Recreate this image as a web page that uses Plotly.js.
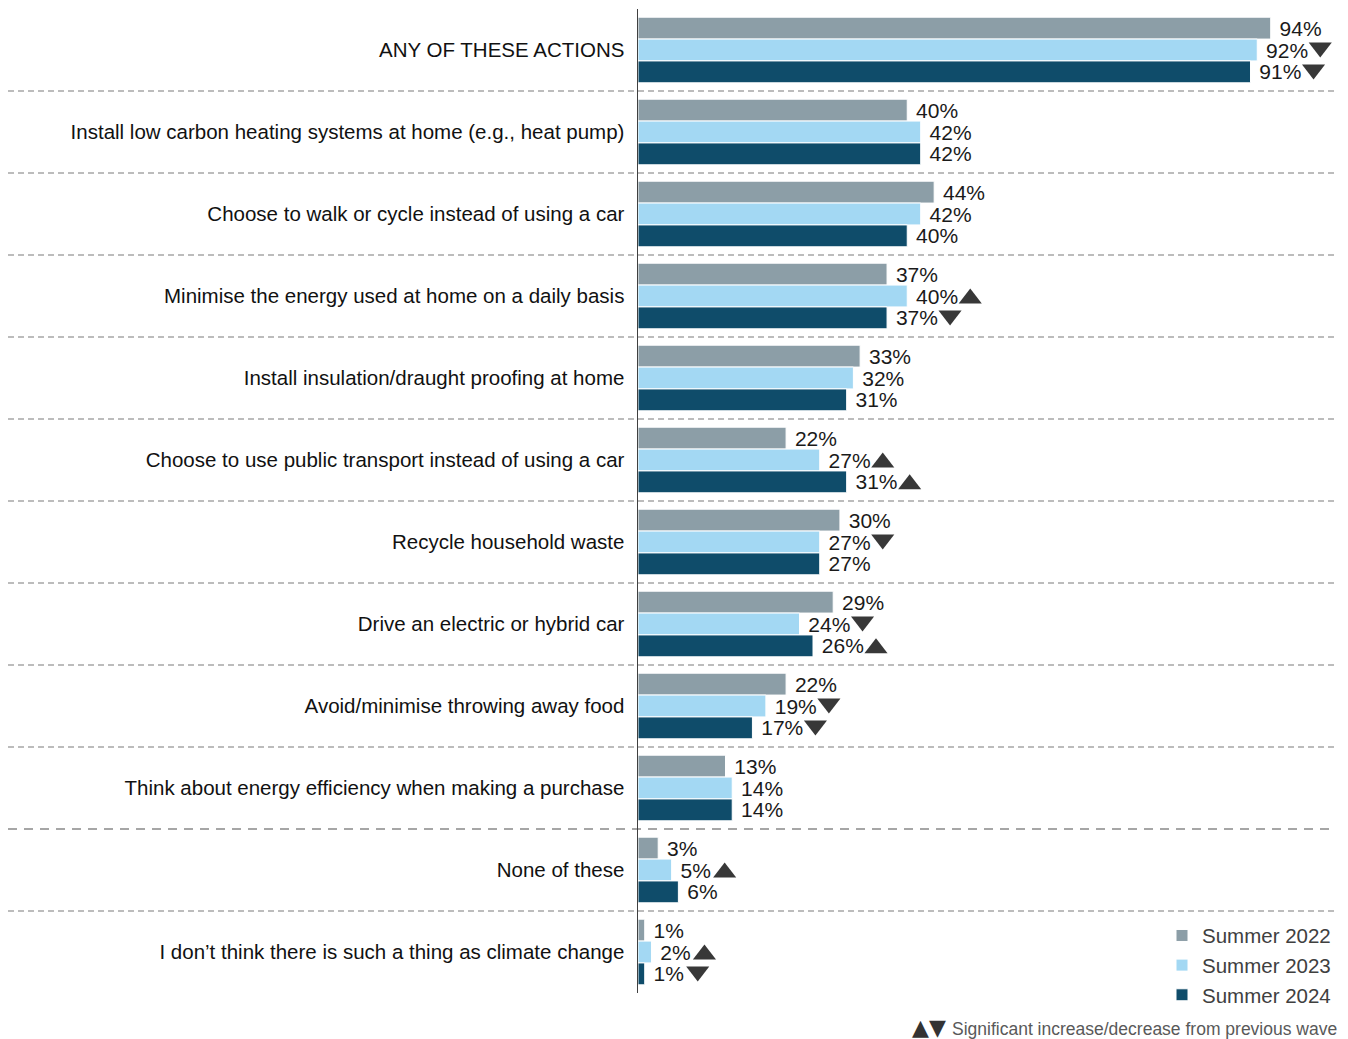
<!DOCTYPE html>
<html>
<head>
<meta charset="utf-8">
<script src="https://cdn.plot.ly/plotly-3.0.1.min.js"></script>
<style>html,body{margin:0;padding:0;background:#fff;}#chart{width:1348px;height:1039px;}</style>
</head>
<body>
<div id="chart"></div>
<script>
const categories = [
  "ANY OF THESE ACTIONS",
  "Install low carbon heating systems at home (e.g., heat pump)",
  "Choose to walk or cycle instead of using a car",
  "Minimise the energy used at home on a daily basis",
  "Install insulation/draught proofing at home",
  "Choose to use public transport instead of using a car",
  "Recycle household waste",
  "Drive an electric or hybrid car",
  "Avoid/minimise throwing away food",
  "Think about energy efficiency when making a purchase",
  "None of these",
  "I don\u2019t think there is such a thing as climate change"
];
const seriesNames = ["Summer 2022", "Summer 2023", "Summer 2024"];
const summer2022 = [94, 40, 44, 37, 33, 22, 30, 29, 22, 13, 3, 1];
const summer2023 = [92, 42, 42, 40, 32, 27, 27, 24, 19, 14, 5, 2];
const summer2024 = [91, 42, 40, 37, 31, 31, 27, 26, 17, 14, 6, 1];
// significance vs previous wave: "up", "down" or ""
const sig2023 = ["down", "", "", "up", "", "up", "down", "down", "down", "", "up", "up"];
const sig2024 = ["down", "", "", "down", "", "up", "", "up", "down", "", "", "down"];

const colors = ["#8C9EA7", "#A3D8F3", "#0F4C6A"];
const values = [summer2022, summer2023, summer2024];
const sigs = [null, sig2023, sig2024];

const xMax = 103.7;
const plotW = 698;
const plotH = 984;
const pxPerUnit = plotW / xMax;
const groupWidth = 0.8;
const nSeries = 3;
const idx = categories.map((c, i) => i);
const FONT = "Liberation Sans, Arial, sans-serif";

const traces = [];
values.forEach((vals, s) => {
  traces.push({
    type: "bar",
    orientation: "h",
    name: seriesNames[s],
    x: vals,
    y: idx,
    marker: {color: colors[s], line: {color: "#ffffff", width: 1}},
    texttemplate: " %{x}%",
    textposition: "outside",
    constraintext: "none",
    cliponaxis: false,
    textfont: {family: FONT, size: 21, color: "#1a1a1a"},
    hoverinfo: "skip"
  });
});

// significance triangles placed just after each value label
["up", "down"].forEach(dir => {
  const xs = [], ys = [];
  sigs.forEach((sg, s) => {
    if (!sg) return;
    sg.forEach((d, i) => {
      if (d !== dir) return;
      const v = values[s][i];
      const offPx = v >= 10 ? 63 : 53;
      xs.push(v + offPx / pxPerUnit);
      ys.push(i + (s - (nSeries - 1) / 2) * groupWidth / nSeries + (dir === "up" ? 0.03 : -0.03));
    });
  });
  traces.push({
    type: "scatter",
    mode: "markers",
    x: xs, y: ys,
    showlegend: false,
    hoverinfo: "skip",
    cliponaxis: false,
    marker: {symbol: dir === "up" ? "triangle-up" : "triangle-down", size: 20, color: "#383838"}
  });
});

const shapes = [];
for (let i = 0; i < categories.length - 1; i++) {
  const heavy = (i === 9);
  shapes.push({
    type: "line", xref: "paper", yref: "y",
    x0: (8 - 638) / plotW, x1: 1, y0: i + 0.5, y1: i + 0.5,
    line: {color: "#A6A6A6", width: heavy ? 2 : 1.5, dash: heavy ? "9px,7px" : "6px,4px"},
    layer: "below"
  });
}

const layout = {
  width: 1348, height: 1039,
  margin: {l: 638, r: 12, t: 9, b: 46},
  paper_bgcolor: "#ffffff", plot_bgcolor: "#ffffff",
  font: {family: FONT, size: 20.5, color: "#1a1a1a"},
  barmode: "group",
  bargap: 0.2,
  bargroupgap: 0,
  showlegend: true,
  legend: {
    x: 1.0, xanchor: "right", y: -0.022, yanchor: "bottom",
    font: {size: 20.5, color: "#404040"},
    traceorder: "normal",
    bgcolor: "rgba(0,0,0,0)",
    itemwidth: 30
  },
  xaxis: {range: [0, xMax], showgrid: false, zeroline: false, showticklabels: false, showline: false, fixedrange: true},
  yaxis: {
    range: [categories.length - 0.5, -0.5],
    tickvals: idx, ticktext: categories,
    showgrid: false, zeroline: false,
    showline: true, linecolor: "#404040", linewidth: 1.5,
    ticks: "", ticklabelstandoff: 8,
    tickfont: {size: 20.5, color: "#111111"},
    fixedrange: true
  },
  shapes: shapes,
  annotations: [
    {
      xref: "paper", yref: "paper", x: (1339 - 638) / plotW, y: (993 - 1029) / plotH,
      xanchor: "right", yanchor: "middle", showarrow: false,
      text: "Significant increase/decrease from previous wave",
      font: {size: 17.5, color: "#595959"}
    },
    {
      xref: "paper", yref: "paper", x: (948 - 638) / plotW, y: (993 - 1027) / plotH,
      xanchor: "right", yanchor: "middle", showarrow: false,
      text: "\u25B2\u25BC",
      font: {family: "DejaVu Sans", size: 22, color: "#333333"}
    }
  ]
};

Plotly.newPlot("chart", traces, layout, {displayModeBar: false, staticPlot: true});
</script>
</body>
</html>
